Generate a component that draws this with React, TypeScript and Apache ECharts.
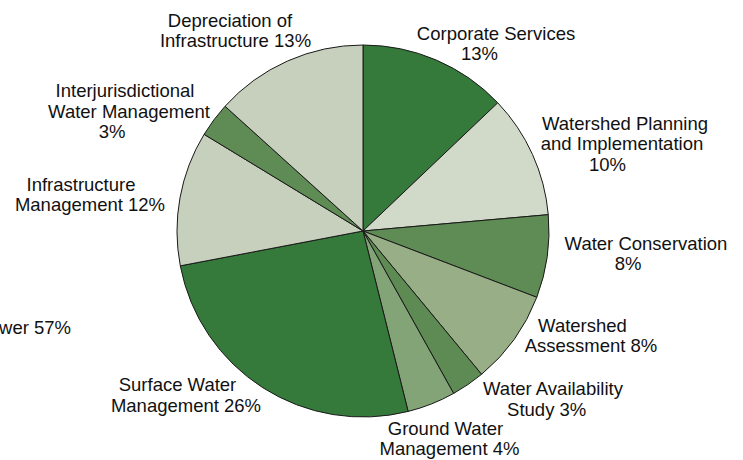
import React, { useEffect, useRef } from "react";
import * as echarts from "echarts";

// Slice names (clockwise from 12 o'clock)
const categories = [
  "Corporate Services",
  "Watershed Planning and Implementation",
  "Water Conservation",
  "Watershed Assessment",
  "Water Availability Study",
  "Ground Water Management",
  "Surface Water Management",
  "Infrastructure Management",
  "Interjurisdictional Water Management",
  "Depreciation of Infrastructure",
];

// Slice sizes (percent of total)
const values = [12.9, 10.7, 7.2, 8.2, 2.9, 4.2, 25.9, 11.7, 3.0, 13.3];

// Label lines shown next to each slice
const labelLines = [
  ["Corporate Services", "13%"],
  ["Watershed Planning", "and Implementation", "10%"],
  ["Water Conservation", "8%"],
  ["Watershed", "Assessment 8%"],
  ["Water Availability", "Study 3%"],
  ["Ground Water", "Management 4%"],
  ["Surface Water", "Management 26%"],
  ["Infrastructure", "Management 12%"],
  ["Interjurisdictional", "Water Management", "3%"],
  ["Depreciation of", "Infrastructure 13%"],
];

// Partially visible label from a neighbouring chart
const clippedLabel = "wer 57%";

const colors = [
  "#357a3b",
  "#d1dac8",
  "#5f8b55",
  "#97ae87",
  "#5e8a53",
  "#82a477",
  "#357a3b",
  "#c6d0bc",
  "#5f8b55",
  "#c6d0bc",
];

// Layout: per-line centre x and line middle y for each label
const labelLayout: [number, number][][] = [
  [[496, 33], [479.5, 53]],
  [[625, 123], [622, 143.5], [607.5, 164]],
  [[646, 243.5], [628, 263.5]],
  [[582.5, 325], [591, 345]],
  [[553, 388.5], [546.7, 409]],
  [[445.5, 428.5], [449.5, 448.5]],
  [[177.5, 384.5], [186, 405]],
  [[81, 184.5], [90, 204.5]],
  [[125, 90.5], [129, 111], [112, 131.5]],
  [[230, 20.5], [235.5, 40.5]],
];

const FONT = "Liberation Sans, Arial, Helvetica, sans-serif";
const FONT_SIZE = 18.5;

export default function App() {
  const ref = useRef<HTMLDivElement>(null);

  useEffect(() => {
    document.body.style.margin = "0";
    if (!ref.current) return;
    const chart = echarts.init(ref.current, undefined, { renderer: "svg" });

    const texts: any[] = [];
    labelLines.forEach((lines, i) => {
      lines.forEach((line, j) => {
        const [x, y] = labelLayout[i][j];
        texts.push({
          type: "text",
          x,
          y,
          style: {
            text: line,
            fill: "#111",
            font: `${FONT_SIZE}px ${FONT}`,
            align: "center",
            verticalAlign: "middle",
          },
        });
      });
    });
    texts.push({
      type: "text",
      x: 71,
      y: 327,
      style: {
        text: clippedLabel,
        fill: "#111",
        font: `${FONT_SIZE}px ${FONT}`,
        align: "right",
        verticalAlign: "middle",
      },
    });

    chart.setOption({
      animation: false,
      backgroundColor: "#ffffff",
      series: [
        {
          type: "pie",
          center: [363, 231],
          radius: 186,
          startAngle: 90,
          clockwise: true,
          avoidLabelOverlap: false,
          label: { show: false },
          labelLine: { show: false },
          emphasis: { disabled: true },
          itemStyle: { borderColor: "#1a1a1a", borderWidth: 1 },
          data: categories.map((name, i) => ({
            name,
            value: values[i],
            itemStyle: { color: colors[i] },
          })),
        },
      ],
      graphic: texts,
    });

    return () => chart.dispose();
  }, []);

  return <div ref={ref} style={{ width: 743, height: 460 }} />;
}
